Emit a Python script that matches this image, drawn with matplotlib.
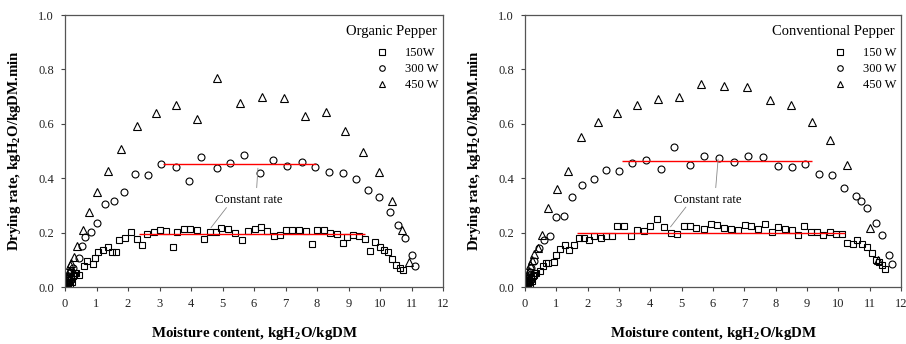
import matplotlib
matplotlib.use("Agg")
import matplotlib.pyplot as plt

plt.rcParams['font.family'] = ['Liberation Serif', 'DejaVu Serif']
plt.rcParams['mathtext.fontset'] = 'custom'
plt.rcParams['mathtext.rm'] = 'Liberation Serif'
plt.rcParams['mathtext.bf'] = 'Liberation Serif:bold'

# ---------------- Organic pepper ----------------
org_150_x = [0.05, 0.07, 0.09, 0.10, 0.12, 0.14, 0.16, 0.18, 0.20, 0.22, 0.25, 0.28, 0.32, 0.36,
             0.44, 0.60, 0.71, 0.88, 0.95, 1.05, 1.20, 1.35, 1.48, 1.62, 1.72, 1.91, 2.09, 2.27,
             2.46, 2.61, 2.81, 3.00, 3.22, 3.43, 3.57, 3.77, 3.97, 4.20, 4.41, 4.59, 4.79, 4.96,
             5.19, 5.41, 5.61, 5.81, 6.03, 6.22, 6.41, 6.63, 6.82, 7.03, 7.21, 7.43, 7.64, 7.84,
             8.00, 8.21, 8.41, 8.62, 8.81, 8.96, 9.14, 9.33, 9.52, 9.69, 9.83, 9.99, 10.13, 10.25,
             10.39, 10.50, 10.62, 10.73]
org_150_y = [0.000, 0.010, 0.015, 0.005, 0.020, 0.025, 0.010, 0.030, 0.035, 0.020, 0.040, 0.045, 0.050, 0.052,
             0.044, 0.078, 0.095, 0.086, 0.106, 0.130, 0.135, 0.147, 0.129, 0.129, 0.174, 0.179, 0.202, 0.175,
             0.154, 0.195, 0.204, 0.208, 0.206, 0.148, 0.202, 0.213, 0.213, 0.209, 0.175, 0.204, 0.202, 0.217,
             0.214, 0.197, 0.174, 0.207, 0.213, 0.222, 0.207, 0.187, 0.193, 0.209, 0.209, 0.208, 0.206, 0.158,
             0.209, 0.208, 0.197, 0.195, 0.162, 0.182, 0.191, 0.188, 0.175, 0.131, 0.164, 0.146, 0.137, 0.127,
             0.103, 0.081, 0.069, 0.061]
org_300_x = [0.05, 0.08, 0.10, 0.13, 0.16, 0.20, 0.24, 0.44, 0.53, 0.64, 0.81, 1.03, 1.27, 1.56, 1.87,
             2.22, 2.65, 3.05, 3.51, 3.94, 4.32, 4.81, 5.23, 5.69, 6.18, 6.59, 7.05, 7.51, 7.95,
             8.39, 8.81, 9.24, 9.62, 9.97, 10.31, 10.58, 10.79, 11.00, 11.11]
org_300_y = [0.010, 0.020, 0.030, 0.040, 0.050, 0.060, 0.070, 0.106, 0.149, 0.184, 0.204, 0.237, 0.305, 0.318, 0.349,
             0.417, 0.410, 0.454, 0.443, 0.388, 0.479, 0.437, 0.455, 0.485, 0.419, 0.466, 0.446, 0.461, 0.443,
             0.423, 0.420, 0.397, 0.355, 0.330, 0.277, 0.228, 0.179, 0.116, 0.076]
org_450_x = [0.06, 0.09, 0.12, 0.16, 0.20, 0.29, 0.39, 0.56, 0.76, 1.03, 1.37, 1.79, 2.30, 2.89, 3.53,
             4.20, 4.81, 5.57, 6.25, 6.94, 7.63, 8.27, 8.89, 9.46, 9.96, 10.38, 10.70, 10.92]
org_450_y = [0.020, 0.040, 0.060, 0.080, 0.090, 0.110, 0.150, 0.210, 0.274, 0.350, 0.426, 0.509, 0.592, 0.638, 0.670,
             0.617, 0.770, 0.678, 0.700, 0.695, 0.628, 0.644, 0.575, 0.498, 0.421, 0.317, 0.209, 0.092]

# ---------------- Conventional pepper ----------------
con_150_x = [0.05, 0.07, 0.09, 0.10, 0.12, 0.14, 0.16, 0.18, 0.20, 0.22, 0.25, 0.28, 0.32, 0.36,
             0.47, 0.58, 0.68, 0.74, 0.92, 1.00, 1.13, 1.29, 1.42, 1.55, 1.71, 1.87, 2.05, 2.21,
             2.41, 2.60, 2.79, 2.94, 3.17, 3.39, 3.58, 3.79, 3.99, 4.22, 4.45, 4.66, 4.86, 5.06,
             5.27, 5.47, 5.71, 5.93, 6.14, 6.35, 6.58, 6.80, 7.01, 7.22, 7.43, 7.66, 7.88, 8.09,
             8.30, 8.51, 8.70, 8.91, 9.12, 9.33, 9.52, 9.72, 9.92, 10.12, 10.27, 10.46, 10.58, 10.75,
             10.93, 11.07, 11.20, 11.31, 11.40, 11.50]
con_150_y = [0.000, 0.010, 0.015, 0.005, 0.020, 0.025, 0.012, 0.030, 0.035, 0.022, 0.040, 0.045, 0.050, 0.052,
             0.058, 0.076, 0.088, 0.088, 0.093, 0.116, 0.141, 0.156, 0.137, 0.156, 0.180, 0.180, 0.174, 0.186,
             0.179, 0.186, 0.186, 0.223, 0.224, 0.186, 0.211, 0.207, 0.225, 0.251, 0.219, 0.200, 0.196, 0.224,
             0.223, 0.217, 0.213, 0.232, 0.228, 0.216, 0.214, 0.211, 0.227, 0.225, 0.213, 0.230, 0.201, 0.219,
             0.212, 0.211, 0.192, 0.225, 0.202, 0.203, 0.190, 0.202, 0.196, 0.195, 0.163, 0.158, 0.172, 0.158,
             0.146, 0.125, 0.100, 0.092, 0.080, 0.067]
con_300_x = [0.05, 0.08, 0.10, 0.13, 0.16, 0.20, 0.30, 0.44, 0.62, 0.79, 0.99, 1.24, 1.50, 1.83, 2.20,
             2.58, 3.00, 3.42, 3.87, 4.34, 4.77, 5.28, 5.72, 6.20, 6.67, 7.12, 7.59, 8.06, 8.51,
             8.94, 9.39, 9.80, 10.19, 10.56, 10.72, 10.90, 11.19, 11.40, 11.61, 11.71]
con_300_y = [0.010, 0.020, 0.030, 0.045, 0.055, 0.070, 0.095, 0.143, 0.172, 0.189, 0.257, 0.262, 0.331, 0.376, 0.397,
             0.430, 0.426, 0.456, 0.467, 0.435, 0.513, 0.450, 0.482, 0.473, 0.458, 0.482, 0.477, 0.446, 0.442,
             0.452, 0.414, 0.412, 0.365, 0.333, 0.317, 0.290, 0.235, 0.192, 0.116, 0.086]
con_450_x = [0.06, 0.09, 0.12, 0.16, 0.22, 0.30, 0.40, 0.53, 0.74, 1.02, 1.37, 1.80, 2.34, 2.94, 3.58,
             4.25, 4.91, 5.62, 6.35, 7.09, 7.81, 8.48, 9.15, 9.74, 10.28, 11.02, 11.25]
con_450_y = [0.020, 0.040, 0.060, 0.080, 0.100, 0.120, 0.145, 0.190, 0.290, 0.360, 0.427, 0.553, 0.605, 0.640, 0.668,
             0.690, 0.700, 0.748, 0.740, 0.735, 0.689, 0.669, 0.605, 0.542, 0.447, 0.217, 0.100]

# constant-rate lines: (level, x_start, x_end)
org_const_150 = (0.195, 2.36, 9.51)
org_const_300 = (0.454, 3.10, 7.96)
con_const_150 = (0.200, 1.66, 10.20)
con_const_300 = (0.462, 3.09, 9.15)

legend_labels_org = ['150W', '300 W', '450 W']
legend_labels_con = ['150 W', '300 W', '450 W']
x_ticks = list(range(0, 13))
y_ticks = [0.0, 0.2, 0.4, 0.6, 0.8, 1.0]

fig = plt.figure(figsize=(9.06, 3.44), dpi=100)
W, H = 906, 344
ax1 = fig.add_axes([65 / W, 1 - 287 / H, 378 / W, 272 / H])
ax2 = fig.add_axes([525 / W, 1 - 287 / H, 376 / W, 272 / H])

mk = dict(linestyle='none', markerfacecolor='none', markeredgecolor='black', markeredgewidth=0.8)


def draw(ax, d150, d300, d450, c150, c300, labels, title, arrows):
    ax.plot(d150[0], d150[1], marker='s', markersize=5, label=labels[0], **mk)
    ax.plot(d300[0], d300[1], marker='o', markersize=5, label=labels[1], **mk)
    ax.plot(d450[0], d450[1], marker='^', markersize=5.5, label=labels[2], **mk)
    for lev, xs, xe in (c150, c300):
        ax.hlines(lev, xs, xe, color='red', lw=1.0, zorder=3)
    ax.set_xlim(0, 12)
    ax.set_ylim(0, 1.0)
    ax.set_xticks(x_ticks)
    ax.set_yticks(y_ticks)
    ax.set_yticklabels([f'{v:.1f}' for v in y_ticks])
    ax.tick_params(direction='out', length=3, width=0.8, labelsize=9, color='#444444',
                   labelcolor='#222222', pad=5)
    for s in ax.spines.values():
        s.set_color('#555555')
        s.set_linewidth(0.9)
    ax.set_xlabel(r'Moisture content, kgH$_\mathbf{2}$O/kgDM', fontsize=10.7, fontweight='bold', labelpad=11)
    ax.set_ylabel(r'Drying rate, kgH$_\mathbf{2}$O/kgDM.min', fontsize=10.7, fontweight='bold', labelpad=11)
    ax.text(5.83, 0.32, 'Constant rate', fontsize=9.2, ha='center', va='center')
    for (x0, y0), (x1, y1) in arrows:
        ax.annotate('', xy=(x1, y1), xytext=(x0, y0),
                    arrowprops=dict(arrowstyle='-', color='#888888', lw=0.6))
    ax.text(1 - 6 / 378, 1 - 16 / 272, title, transform=ax.transAxes, fontsize=10.5,
            ha='right', va='center')
    ax.legend(loc='upper right', bbox_to_anchor=(1 - 5 / 378, 1 - 32 / 272), frameon=False,
              fontsize=9, markerscale=0.8, handlelength=1.0, handletextpad=1.3,
              labelspacing=0.33, borderaxespad=0, borderpad=0)


draw(ax1, (org_150_x, org_150_y), (org_300_x, org_300_y), (org_450_x, org_450_y),
     org_const_150, org_const_300, legend_labels_org, 'Organic Pepper',
     [((6.08, 0.355), (6.13, 0.447)), ((5.18, 0.30), (4.58, 0.21))])
draw(ax2, (con_150_x, con_150_y), (con_300_x, con_300_y), (con_450_x, con_450_y),
     con_const_150, con_const_300, legend_labels_con, 'Conventional Pepper',
     [((6.08, 0.355), (6.17, 0.48)), ((5.19, 0.302), (4.59, 0.213))])

fig.savefig('out.png', dpi=100)
